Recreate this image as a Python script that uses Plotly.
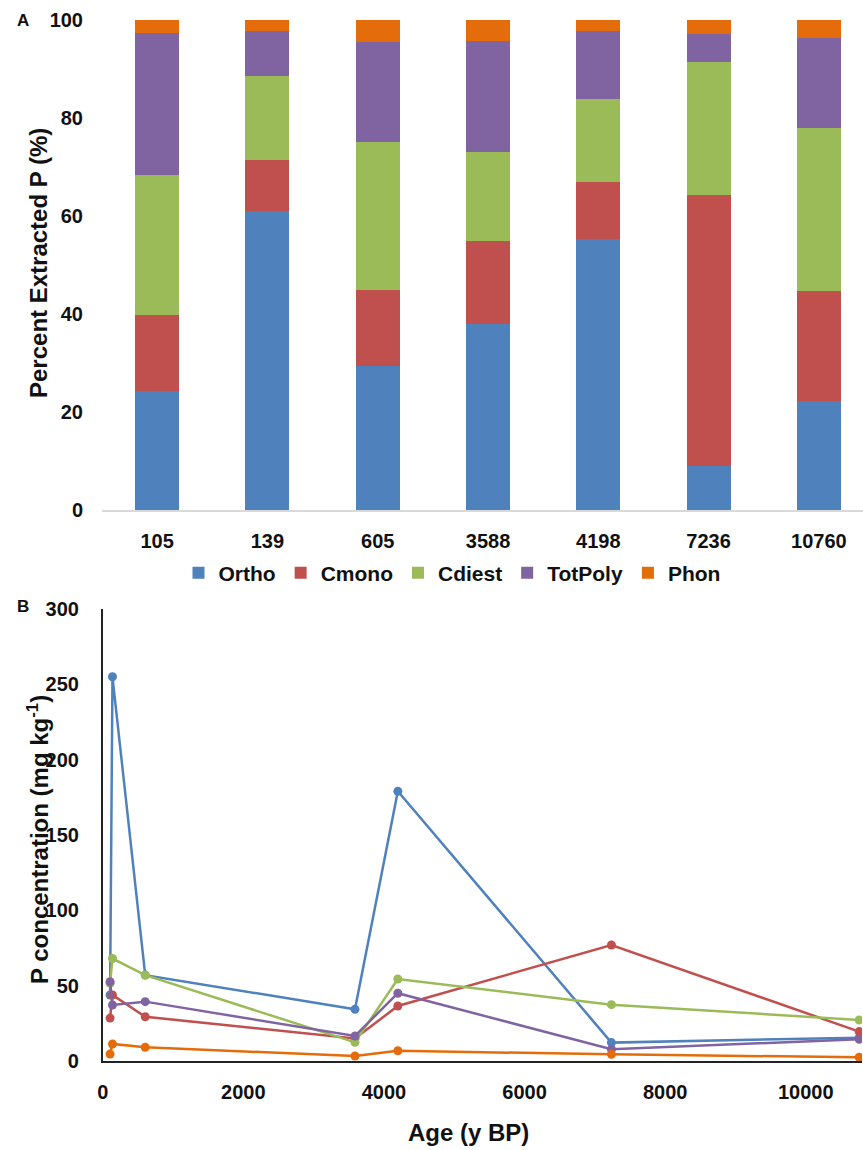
import plotly.graph_objects as go

# Sample ages (y BP)
ages = [105, 139, 605, 3588, 4198, 7236, 10760]
age_labels = ["105", "139", "605", "3588", "4198", "7236", "10760"]

# Share of extracted P by form (%)
ortho_pct = [24.2, 61.1, 29.3, 37.9, 55.3, 9.0, 22.3]
cmono_pct = [15.5, 10.3, 15.7, 16.9, 11.6, 55.3, 22.3]
cdiest_pct = [28.6, 17.2, 30.1, 18.2, 17.0, 27.2, 33.3]
totpoly_pct = [29.0, 9.1, 20.4, 22.7, 13.9, 5.7, 18.5]
phon_pct = [2.7, 2.3, 4.5, 4.3, 2.2, 2.8, 3.6]

# P concentration by form (mg kg-1)
ortho_conc = [43.8, 255.0, 57.0, 34.3, 179.0, 12.2, 15.5]
cmono_conc = [28.5, 43.8, 29.4, 15.0, 36.5, 77.0, 19.5]
cdiest_conc = [51.6, 68.0, 57.0, 12.4, 54.4, 37.4, 27.2]
totpoly_conc = [52.6, 37.2, 39.4, 16.6, 45.0, 7.8, 14.4]
phon_conc = [4.6, 11.3, 9.1, 3.3, 6.8, 4.4, 2.5]

series_names = ["Ortho", "Cmono", "Cdiest", "TotPoly", "Phon"]
colors = ["#4F81BD", "#C0504D", "#9BBB59", "#8064A2", "#E46C0A"]
pct_data = [ortho_pct, cmono_pct, cdiest_pct, totpoly_pct, phon_pct]
conc_data = [ortho_conc, cmono_conc, cdiest_conc, totpoly_conc, phon_conc]

W, H = 863, 1150
FONT = "Liberation Sans, Arial, sans-serif"
INK = "#111"


def py(px):
    """Convert a pixel row (from the top) to paper y."""
    return (H - px) / H


fig = go.Figure()

# Panel A: stacked percentage bars
for name, col, vals in zip(series_names, colors, pct_data):
    fig.add_trace(go.Bar(
        x=age_labels, y=vals, name=name, marker_color=col,
        marker_line_width=0, width=0.4,
        xaxis="x", yaxis="y",
    ))

# Panel B: concentrations against age
for name, col, vals in zip(series_names, colors, conc_data):
    fig.add_trace(go.Scatter(
        x=ages, y=vals, name=name, mode="lines+markers",
        line=dict(color=col, width=2.5),
        marker=dict(color=col, size=9),
        showlegend=False, xaxis="x2", yaxis="y2",
    ))

tick_font = dict(family=FONT, size=20, color=INK, weight="bold")
title_font = dict(family=FONT, size=24, color=INK, weight="bold")

fig.update_layout(
    width=W, height=H,
    margin=dict(l=0, r=0, t=0, b=0),
    paper_bgcolor="white", plot_bgcolor="white",
    barmode="stack",
    font=dict(family=FONT, color=INK),
    xaxis=dict(
        domain=[102 / W, 1.0], anchor="y", automargin=False,
        type="category", range=[-0.5, 6.4],
        showline=True, linecolor="#D9D9D9", linewidth=1.5,
        ticks="", showgrid=False, tickfont=tick_font,
        ticklabelstandoff=12,
    ),
    yaxis=dict(
        domain=[py(510), py(20)], anchor="x", automargin=False,
        range=[0, 100], dtick=20, showgrid=False, zeroline=False,
        showline=False, ticks="", tickfont=tick_font,
        ticklabelstandoff=18,
    ),
    xaxis2=dict(
        domain=[102.7 / W, 862 / W], anchor="y2", automargin=False,
        range=[0, 10800], dtick=2000, tickformat="d",
        showgrid=False, zeroline=False,
        showline=True, linecolor="#222", linewidth=2,
        ticks="", tickfont=tick_font, ticklabelstandoff=12,
    ),
    yaxis2=dict(
        domain=[py(1061), py(609)], anchor="x2", automargin=False,
        range=[0, 300], dtick=50, showgrid=False, zeroline=False,
        showline=True, linecolor="#222", linewidth=1.5,
        ticks="", tickfont=tick_font, ticklabelstandoff=18,
    ),
    legend=dict(
        orientation="h", x=452 / W, xanchor="center",
        y=py(573), yanchor="middle",
        font=dict(family=FONT, size=21, color=INK, weight="bold"),
        traceorder="normal", itemsizing="constant",
    ),
    annotations=[
        dict(text="A", x=15 / W, y=py(20), xref="paper", yref="paper",
             showarrow=False, xanchor="left", yanchor="middle",
             font=dict(family=FONT, size=17, color=INK, weight="bold")),
        dict(text="B", x=15 / W, y=py(607), xref="paper", yref="paper",
             showarrow=False, xanchor="left", yanchor="middle",
             font=dict(family=FONT, size=17, color=INK, weight="bold")),
        dict(text="Percent Extracted P (%)", textangle=-90,
             x=38 / W, y=py(263), xref="paper", yref="paper",
             showarrow=False, xanchor="center", yanchor="middle",
             font=title_font),
        dict(text="P concentration (mg kg<sup>-1</sup>)", textangle=-90,
             x=38 / W, y=py(840), xref="paper", yref="paper",
             showarrow=False, xanchor="center", yanchor="middle",
             font=title_font),
        dict(text="Age (y BP)",
             x=468 / W, y=py(1132), xref="paper", yref="paper",
             showarrow=False, xanchor="center", yanchor="middle",
             font=dict(family=FONT, size=24, color=INK, weight="bold")),
    ],
)

fig.write_html("out.html")
